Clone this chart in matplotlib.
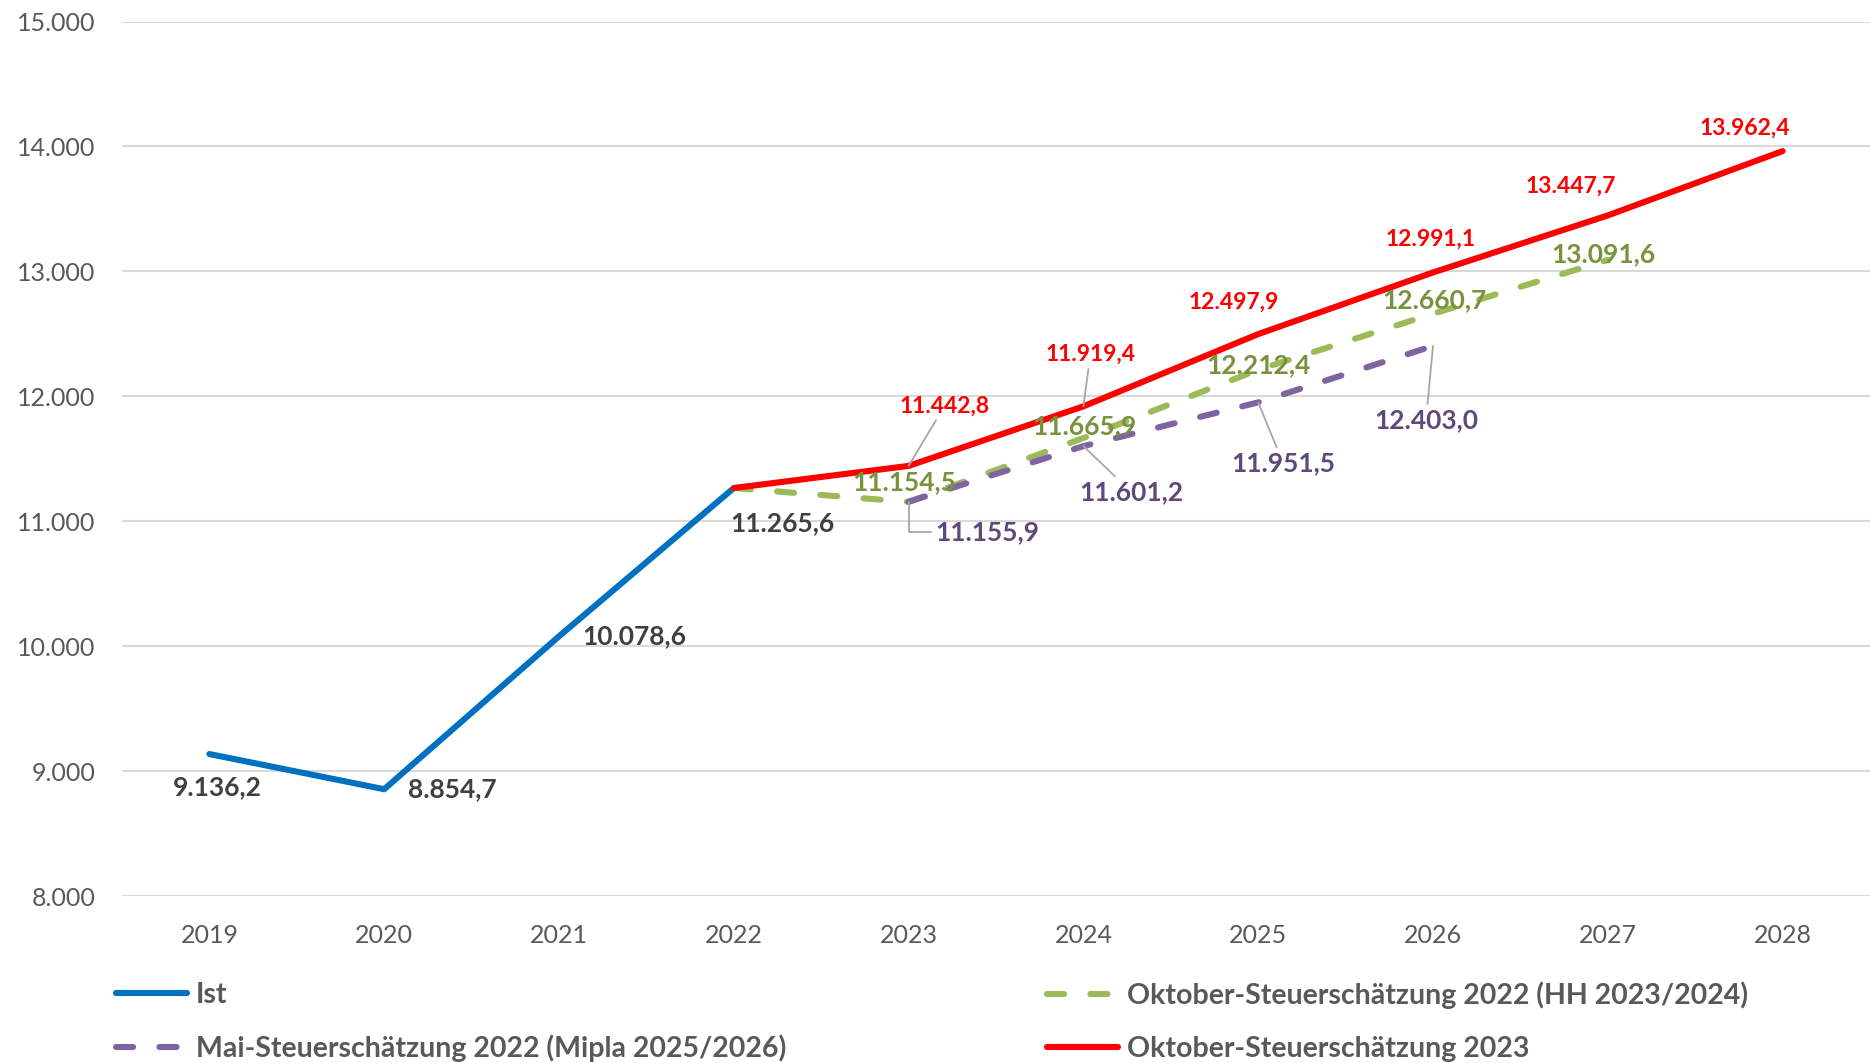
import numpy as np
import matplotlib.pyplot as plt
from matplotlib.lines import Line2D

plt.rcParams['font.family'] = ['Lato', 'DejaVu Sans']

jahre = ['2019', '2020', '2021', '2022', '2023', '2024', '2025', '2026', '2027', '2028']
nan = np.nan
ist = [9136.2, 8854.7, 10078.6, 11265.6, nan, nan, nan, nan, nan, nan]
okt_2022 = [nan, nan, nan, 11265.6, 11154.5, 11665.9, 12212.4, 12660.7, 13091.6, nan]
mai_2022 = [nan, nan, nan, nan, 11155.9, 11601.2, 11951.5, 12403.0, nan, nan]
okt_2023 = [nan, nan, nan, 11265.6, 11442.8, 11919.4, 12497.9, 12991.1, 13447.7, 13962.4]

namen = ['Ist', 'Oktober-Steuerschätzung 2022 (HH 2023/2024)',
         'Mai-Steuerschätzung 2022 (Mipla 2025/2026)', 'Oktober-Steuerschätzung 2023']

BLAU = '#0070C0'
GRUEN = '#9BBB59'
GRUEN_TXT = '#77933C'
LILA = '#8064A2'
LILA_TXT = '#5F497A'
ROT = '#FF0000'
GRAU = '#595959'
LEITER = '#A6A6A6'


def de(v):
    s = f'{v:,.1f}'
    return s.replace(',', 'X').replace('.', ',').replace('X', '.')


fig = plt.figure(figsize=(18.7, 10.63), dpi=100)
ax = fig.add_axes([122 / 1870, 1 - 896 / 1063, 1 - 122 / 1870, (896 - 21.5) / 1063])

x = np.arange(len(jahre))
lw = 4.4
strich = (2.8, 4.3)
ax.plot(x, ist, color=BLAU, lw=lw, solid_capstyle='round', zorder=3)
ax.plot(x, okt_2022, color=GRUEN, lw=lw, dashes=strich, dash_capstyle='round', zorder=3)
ax.plot(x, mai_2022, color=LILA, lw=lw, dashes=strich, dash_capstyle='round', zorder=3)
ax.plot(x, okt_2023, color=ROT, lw=lw, solid_capstyle='round', zorder=4)

ax.set_xlim(-0.5, 9.5)
ax.set_ylim(8000, 15000)
ax.set_yticks(np.arange(8000, 15001, 1000))
ax.set_yticklabels([f'{v:,}'.replace(',', '.') for v in range(8000, 15001, 1000)])
ax.set_xticks(x)
ax.set_xticklabels(jahre)
ax.grid(axis='y', color='#D9D9D9', lw=1.5)
ax.set_axisbelow(True)
for s in ax.spines.values():
    s.set_visible(False)
ax.tick_params(length=0, labelsize=18, labelcolor=GRAU)
ax.tick_params(axis='x', pad=20)
ax.tick_params(axis='y', pad=19)


def label(i, v, dx, dy, col, size, leader=None):
    kw = {}
    if leader is not None:
        kw['arrowprops'] = dict(arrowstyle='-', color=LEITER, lw=1.3, shrinkA=1, shrinkB=0,
                                connectionstyle=leader)
    ax.annotate(de(v), (i, v), xytext=(dx, dy), textcoords='offset pixels',
                ha='center', va='center', color=col, fontsize=size, fontweight='bold',
                zorder=6, **kw)


# Ist
ist_off = [(8, -33), (68, 0), (75, 0), (49, -35)]
for i, (dx, dy) in enumerate(ist_off):
    label(i, ist[i], dx, dy, '#404040', 19)

# Oktober 2023
rot_off = {4: (36, 60, 'arc3'), 5: (7, 52, 'arc3'), 6: (-25, 32, None), 7: (-2, 33, None),
           8: (-37, 29, None), 9: (-38, 23, None)}
for i, (dx, dy, ld) in rot_off.items():
    label(i, okt_2023[i], dx, dy, ROT, 16.5, ld)

# Oktober 2022
gruen_off = {4: (-4, 20), 5: (1, 12), 6: (0, 5), 7: (1, 14), 8: (-4, 6)}
for i, (dx, dy) in gruen_off.items():
    label(i, okt_2022[i], dx, dy, GRUEN_TXT, 19)

# Mai 2022
lila_off = {4: (79, -30, 'angle,angleA=180,angleB=90,rad=0'), 5: (48, -46, 'arc3'),
            6: (25, -61, 'arc3'), 7: (-7, -74, 'arc3')}
for i, (dx, dy, ld) in lila_off.items():
    label(i, mai_2022[i], dx, dy, LILA_TXT, 19, ld)

# Legende
def handle(col, solid):
    if solid:
        return Line2D([], [], color=col, lw=lw, solid_capstyle='round')
    return Line2D([], [], color=col, lw=lw, dashes=strich, dash_capstyle='round')


leg_kw = dict(frameon=False, borderpad=0, borderaxespad=0, handlelength=2.5,
              handletextpad=0.3, labelspacing=0.95,
              prop={'size': 20.5, 'weight': 'bold'}, labelcolor=GRAU, loc='center left')
fig.legend([handle(BLAU, True), handle(LILA, False)], [namen[0], namen[2]],
           bbox_to_anchor=(116 / 1870, 1 - 1022 / 1063), **leg_kw)
fig.legend([handle(GRUEN, False), handle(ROT, True)], [namen[1], namen[3]],
           bbox_to_anchor=(1047 / 1870, 1 - 1022 / 1063), **leg_kw)

fig.savefig('out.png', dpi=100)
